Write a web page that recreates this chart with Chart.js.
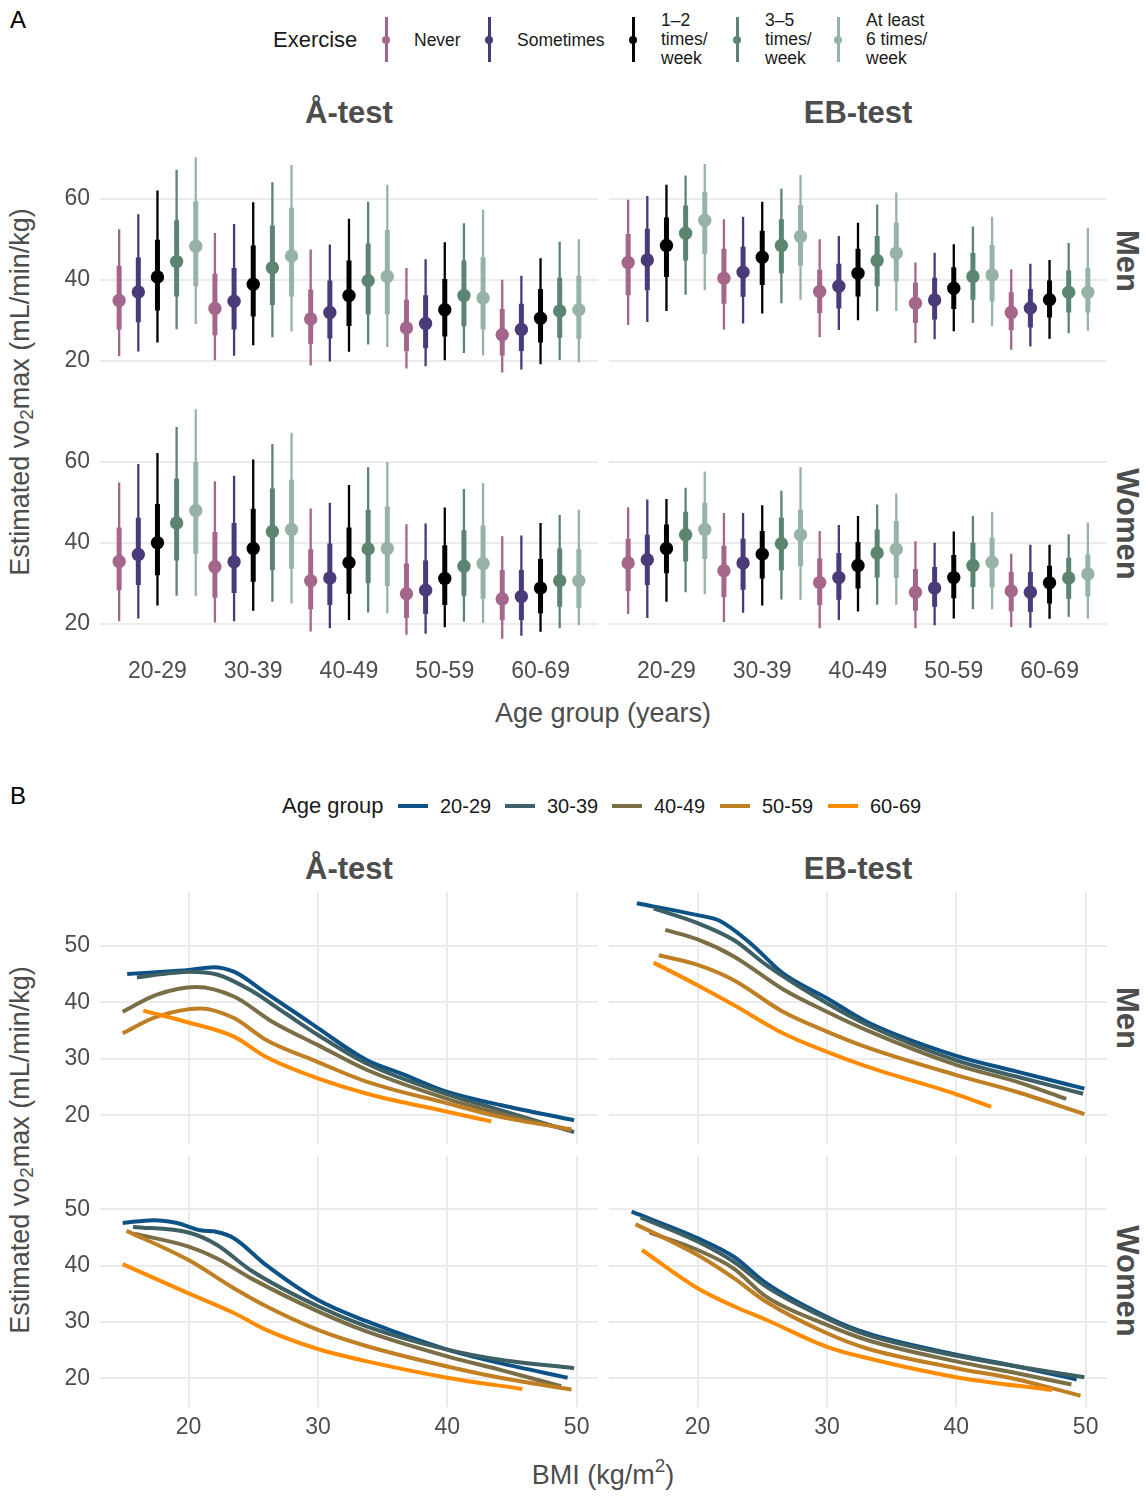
<!DOCTYPE html>
<html lang="en">
<head>
<meta charset="UTF-8">
<title>Estimated VO2max by exercise, age group and BMI</title>
<script src="https://cdn.jsdelivr.net/npm/chart.js"></script>
<style>
    body { margin: 0; background: #fff; font-family: "Liberation Sans", Arial, sans-serif; }
    #page { position: relative; width: 1148px; height: 1496px; overflow: hidden; background: #fff; }
    #page canvas { position: absolute; }
    .txt { position: absolute; white-space: nowrap; line-height: 1; }
    .tag { font-size: 24px; color: #000; }
    .strip { font-size: 31px; font-weight: bold; color: #4D4D4D; transform: translate(-50%, -50%); }
    .rstrip { font-size: 31px; font-weight: bold; color: #4D4D4D; transform: translate(-50%, -50%) rotate(90deg); }
    .ytitle { font-size: 27px; color: #4D4D4D; transform: translate(-50%, -50%) rotate(-90deg); }
    .xtitle { font-size: 27px; color: #4D4D4D; transform: translate(-50%, -50%); }
    .ytitle sub { font-size: 0.7em; vertical-align: -0.25em; }
    .xtitle sup { font-size: 0.7em; vertical-align: 0.6em; }
    .legtitle { font-size: 22px; color: #1a1a1a; transform: translateY(-50%); }
    .leglab { font-size: 17.5px; color: #1a1a1a; line-height: 19px; transform: translateY(-50%); }
    .leglabB { font-size: 20px; color: #1a1a1a; transform: translateY(-50%); }
</style>
</head>
<body>
<div id="page">
    <div class="txt tag" style="left:10px; top:8px;">A</div>
    <div class="txt tag" style="left:10px; top:784px;">B</div>

    <div class="txt legtitle" style="left:273px; top:40px;">Exercise</div>
    <div id="legendA"></div>
    <div class="txt legtitle" style="left:282px; top:806px;">Age group</div>
    <div id="legendB"></div>

    <div class="txt strip" style="left:349px; top:112px;">Å-test</div>
    <div class="txt strip" style="left:858px; top:112px;">EB-test</div>
    <div class="txt rstrip" style="left:1127px; top:261px;">Men</div>
    <div class="txt rstrip" style="left:1127px; top:524px;">Women</div>
    <div class="txt ytitle" style="left:22px; top:392px;">Estimated vo<sub>2</sub>max (mL/min/kg)</div>
    <div class="txt xtitle" style="left:603px; top:713px;">Age group (years)</div>

    <div class="txt strip" style="left:349px; top:868px;">Å-test</div>
    <div class="txt strip" style="left:858px; top:868px;">EB-test</div>
    <div class="txt rstrip" style="left:1127px; top:1018px;">Men</div>
    <div class="txt rstrip" style="left:1127px; top:1281px;">Women</div>
    <div class="txt ytitle" style="left:22px; top:1150px;">Estimated vo<sub>2</sub>max (mL/min/kg)</div>
    <div class="txt xtitle" style="left:603px; top:1473px;">BMI (kg/m<sup>2</sup>)</div>

    <canvas id="aMen" style="left:40px; top:135px;" width="558" height="252"></canvas>
    <canvas id="ebMen" style="left:609px; top:135px;" width="498" height="252"></canvas>
    <canvas id="aWomen" style="left:40px; top:398px;" width="558" height="296"></canvas>
    <canvas id="ebWomen" style="left:609px; top:398px;" width="498" height="296"></canvas>

    <canvas id="bmiAMen" style="left:40px; top:892px;" width="558" height="252"></canvas>
    <canvas id="bmiEbMen" style="left:609px; top:892px;" width="498" height="252"></canvas>
    <canvas id="bmiAWomen" style="left:40px; top:1156px;" width="558" height="291"></canvas>
    <canvas id="bmiEbWomen" style="left:609px; top:1156px;" width="498" height="291"></canvas>
</div>

<script>
    // ---- Panel A data: rows = exercise level, columns = age group ----
    const ageGroups = ['20-29', '30-39', '40-49', '50-59', '60-69'];
    const exerciseLevels = ['Never', 'Sometimes', '1–2\ntimes/\nweek', '3–5\ntimes/\nweek', 'At least\n6 times/\nweek'];
    const yTicksA = [20, 40, 60];

    // Å-test, men
    const aMenMid  = [[34.9, 32.9, 30.3, 28.1, 26.4], [37.0, 34.7, 31.9, 29.2, 27.7], [40.7, 38.9, 36.1, 32.6, 30.5], [44.5, 43.0, 39.8, 36.1, 32.3], [48.3, 45.9, 40.8, 35.5, 32.6]];
    const aMenLo66 = [[27.7, 26.3, 24.2, 22.4, 21.3], [29.5, 27.7, 25.5, 23.1, 22.4], [32.4, 30.9, 28.6, 26.0, 24.5], [35.9, 33.8, 31.4, 28.5, 25.7], [38.4, 35.9, 31.5, 27.7, 25.4]];
    const aMenHi66 = [[43.5, 41.5, 37.6, 35.1, 32.8], [45.5, 42.9, 39.8, 36.2, 34.1], [49.9, 48.5, 44.8, 40.2, 37.7], [54.7, 53.4, 49.0, 44.8, 40.5], [59.4, 57.8, 52.3, 45.6, 41.0]];
    const aMenLo95 = [[21.1, 20.1, 18.8, 18.1, 17.1], [22.3, 21.2, 19.8, 18.6, 17.8], [24.5, 23.8, 22.2, 20.1, 19.1], [27.8, 25.8, 24.0, 21.9, 20.2], [29.1, 27.2, 23.4, 21.3, 19.6]];
    const aMenHi95 = [[52.5, 51.6, 47.5, 42.9, 40.0], [56.2, 53.8, 48.7, 45.1, 41.0], [62.1, 59.2, 55.1, 49.3, 45.3], [67.2, 64.1, 59.3, 54.0, 49.4], [70.3, 68.4, 63.5, 57.3, 50.0]];

    // EB-test, men
    const ebMenMid  = [[44.3, 40.4, 37.1, 34.2, 31.9], [44.9, 41.9, 38.4, 35.0, 33.0], [48.5, 45.6, 41.6, 37.9, 35.1], [51.5, 48.5, 44.8, 40.8, 36.9], [54.7, 50.7, 46.6, 41.2, 36.9]];
    const ebMenLo66 = [[36.2, 34.1, 31.8, 29.3, 27.5], [37.4, 35.8, 32.9, 30.2, 28.2], [40.7, 38.7, 35.9, 32.8, 30.7], [44.8, 41.6, 38.4, 35.1, 31.9], [46.4, 43.5, 39.6, 34.7, 31.9]];
    const ebMenHi66 = [[51.3, 47.7, 42.5, 39.3, 36.9], [52.6, 48.2, 44.0, 40.5, 37.7], [55.4, 52.1, 47.7, 43.1, 39.8], [58.4, 55.0, 50.8, 46.6, 42.3], [61.7, 58.5, 54.1, 48.6, 43.0]];
    const ebMenLo95 = [[28.8, 27.7, 25.8, 24.4, 22.7], [29.6, 29.2, 27.6, 25.3, 23.5], [32.3, 31.7, 30.0, 27.3, 25.4], [36.3, 34.2, 32.2, 29.3, 26.8], [37.4, 35.1, 32.3, 28.6, 27.4]];
    const ebMenHi95 = [[59.8, 55.0, 50.0, 44.3, 42.6], [60.7, 55.6, 50.8, 46.7, 44.0], [63.5, 59.3, 54.1, 48.8, 44.9], [65.8, 62.5, 58.6, 53.2, 49.1], [68.6, 65.9, 61.6, 55.6, 52.9]];

    // Å-test, women
    const aWomenMid  = [[35.4, 34.1, 30.6, 27.4, 26.1], [37.1, 35.3, 31.3, 28.3, 26.7], [40.0, 38.6, 35.1, 31.2, 28.8], [44.9, 42.8, 38.5, 34.2, 30.6], [48.0, 43.3, 38.6, 34.9, 30.6]];
    const aWomenLo66 = [[28.3, 26.4, 23.6, 21.4, 20.9], [29.6, 27.6, 24.6, 22.4, 20.9], [32.0, 30.4, 27.4, 24.6, 22.6], [35.6, 33.3, 30.0, 26.9, 24.2], [37.3, 33.6, 29.3, 26.2, 23.9]];
    const aWomenHi66 = [[43.8, 42.7, 38.4, 34.9, 33.3], [46.2, 44.9, 39.8, 35.6, 33.3], [49.6, 48.4, 43.8, 39.4, 36.0], [55.9, 53.4, 48.2, 43.1, 38.6], [60.0, 55.6, 49.0, 44.3, 38.4]];
    const aWomenLo95 = [[20.6, 20.3, 18.1, 17.3, 16.3], [21.3, 20.6, 18.9, 17.5, 17.0], [24.5, 23.2, 20.9, 19.1, 18.0], [26.9, 25.4, 22.8, 20.5, 18.9], [26.8, 25.0, 22.6, 20.2, 19.6]];
    const aWomenHi95 = [[54.9, 55.2, 48.5, 44.6, 41.6], [59.5, 56.6, 49.9, 44.8, 41.8], [62.2, 60.6, 54.3, 48.7, 44.9], [68.6, 64.4, 58.7, 53.3, 46.9], [73.0, 67.2, 60.0, 54.8, 48.2]];

    // EB-test, women
    const ebWomenMid  = [[35.0, 33.1, 30.2, 27.8, 28.1], [35.8, 35.0, 31.4, 28.8, 27.8], [38.6, 37.2, 34.4, 31.4, 30.1], [42.0, 39.8, 37.5, 34.4, 31.3], [43.3, 42.0, 38.4, 35.2, 32.3]];
    const ebWomenLo66 = [[28.1, 26.6, 24.6, 23.2, 23.1], [29.6, 28.4, 25.9, 24.2, 22.9], [32.5, 31.2, 28.7, 26.3, 25.0], [35.4, 33.2, 31.4, 29.1, 26.2], [36.0, 34.2, 31.3, 29.0, 26.7]];
    const ebWomenHi66 = [[41.0, 39.3, 36.1, 33.5, 32.8], [42.0, 41.0, 37.5, 34.0, 32.8], [44.5, 42.9, 40.2, 37.0, 34.3], [47.7, 46.2, 43.3, 40.0, 36.3], [49.9, 48.2, 45.4, 41.3, 37.2]];
    const ebWomenLo95 = [[22.4, 20.4, 18.9, 18.9, 19.2], [21.4, 22.7, 20.9, 19.6, 19.0], [25.4, 24.5, 23.0, 21.3, 21.2], [27.8, 26.0, 24.7, 23.6, 21.7], [27.3, 25.9, 24.7, 23.6, 21.2]];
    const ebWomenHi95 = [[48.8, 47.4, 42.9, 40.4, 37.3], [50.7, 47.4, 44.4, 40.0, 39.5], [50.8, 49.3, 46.6, 42.8, 39.5], [53.6, 52.9, 49.5, 46.6, 42.1], [57.6, 58.7, 52.2, 47.7, 45.0]];

    // ---- Panel B data: [BMI, vo2max] along each age group's curve ----
    const bmiTicks = [20, 30, 40, 50];
    const yTicksB = [20, 30, 40, 50];
    const curvesAMen = [
        [[15.25, 45.0], [17.5, 45.3], [20, 45.7], [21.9, 46.2], [23.5, 45.4], [26, 41.6], [28.6, 37.6], [30, 35.4], [33.8, 29.7], [36.4, 27.4], [40, 24.1], [44.1, 21.8], [49.8, 19.1]],
        [[16.0, 44.4], [18, 45.0], [20, 45.4], [22.2, 44.9], [24.8, 42.1], [27.5, 38.0], [30, 34.2], [33.8, 29.1], [40, 23.7], [44.1, 20.9], [49.8, 17.0]],
        [[14.9, 38.3], [17.5, 41.3], [20.6, 42.7], [23.5, 41.0], [26.5, 36.5], [30, 32.4], [33.8, 28.0], [40, 22.9], [44.1, 20.3], [49.6, 17.3]],
        [[14.9, 34.5], [17.5, 37.4], [20.9, 38.9], [23.5, 37.2], [26, 33.3], [30, 29.4], [33.8, 25.9], [40, 22.1], [44.1, 19.7], [49.6, 17.5]],
        [[16.5, 38.5], [20, 36.4], [23.5, 33.9], [26, 30.3], [30, 26.5], [33.8, 23.8], [40, 20.6], [43.4, 18.9]]
    ];
    const curvesEbMen = [
        [[15.3, 57.5], [20, 55.4], [21.7, 54.4], [24.1, 50.4], [26.6, 45.1], [30, 40.7], [33.1, 36.5], [40, 30.5], [44.7, 27.7], [49.9, 24.7]],
        [[16.6, 56.6], [20, 54.0], [22.8, 51.0], [25.3, 46.6], [30, 39.8], [33.1, 36.0], [40, 29.7], [44.7, 26.8], [49.8, 23.8]],
        [[17.5, 52.8], [20, 51.1], [22.8, 48.1], [26.6, 42.3], [30, 38.3], [33.1, 35.0], [40, 28.9], [44.7, 25.9], [48.5, 22.9]],
        [[17.0, 48.3], [20, 46.6], [22.8, 43.9], [26.6, 38.3], [30, 34.8], [33.1, 32.0], [40, 27.1], [44.7, 24.1], [49.9, 20.2]],
        [[16.6, 47.0], [20, 43.0], [22.8, 39.5], [26.6, 34.5], [30, 31.2], [33.1, 28.6], [40, 23.7], [42.7, 21.5]]
    ];
    const curvesAWomen = [
        [[14.9, 47.6], [17.3, 48.1], [19.1, 47.6], [20.9, 46.3], [22.2, 46.0], [23.5, 44.9], [26, 40.1], [30, 33.9], [33.8, 30.1], [40, 25.1], [44.1, 22.7], [49.3, 20.1]],
        [[15.7, 46.9], [20, 45.9], [22.2, 43.7], [24.8, 39.2], [30, 32.8], [33.8, 29.2], [40, 25.1], [44.1, 23.3], [49.8, 21.8]],
        [[15.8, 45.7], [20, 43.4], [22.2, 41.3], [24.8, 37.8], [30, 31.9], [33.8, 28.3], [40, 23.9], [44.1, 21.5], [48.8, 18.6]],
        [[15.2, 46.2], [20, 41.0], [23.5, 36.0], [26, 32.8], [30, 28.6], [33.8, 25.7], [40, 22.1], [44.1, 20.1], [49.6, 18.0]],
        [[14.9, 40.3], [20, 35.1], [23.5, 31.6], [26, 28.6], [30, 25.2], [33.8, 23.0], [40, 20.1], [45.8, 18.1]]
    ];
    const curvesEbWomen = [
        [[14.9, 49.6], [20, 44.9], [22.8, 41.6], [25.3, 36.9], [30, 30.9], [33.1, 28.0], [40, 24.2], [44.7, 22.1], [49.3, 19.8]],
        [[15.6, 48.6], [20, 44.3], [22.8, 40.7], [25.3, 36.3], [30, 30.6], [33.1, 27.7], [40, 24.0], [44.7, 22.1], [49.9, 20.2]],
        [[16.3, 45.9], [20, 42.8], [22.8, 39.5], [25.3, 34.5], [30, 29.5], [33.1, 26.8], [40, 23.0], [44.7, 20.9], [48.9, 18.9]],
        [[15.2, 47.4], [20, 41.9], [22.8, 37.8], [25.3, 33.6], [30, 28.0], [33.1, 25.3], [40, 21.8], [44.7, 19.8], [49.6, 16.9]],
        [[15.7, 42.8], [20, 36.0], [22.8, 32.8], [25.3, 30.4], [30, 25.6], [33.1, 23.6], [40, 20.2], [47.4, 17.9]]
    ];

    const exerciseColors = ['#A4668A', '#4A3A7A', '#000000', '#5C8571', '#96B3A6'];
    const ageColors = ['#0D5286', '#3E5F63', '#7A6E47', '#C17F24', '#FF8C00'];
    const dodge = [-0.4, -0.2, 0, 0.2, 0.4];
    const FONT = '"Liberation Sans", Arial, sans-serif';

    Chart.defaults.font.family = FONT;

    // linear axis with fixed ticks and fixed thickness, no label overflow padding
    function axis(min, max, ticks, o) {
        return {
            type: 'linear', min: min, max: max, offset: false,
            afterBuildTicks: s => { s.ticks = ticks.map(v => ({ value: v })); },
            afterFit: s => {
                if (s.isHorizontal()) s.height = o.size; else s.width = o.size;
                s.paddingTop = 0; s.paddingBottom = 0; s.paddingLeft = 0; s.paddingRight = 0;
            },
            border: { display: false },
            grid: { display: o.grid, color: '#EBEBEB', lineWidth: 2, drawTicks: false },
            ticks: {
                display: o.labels, color: '#4D4D4D', padding: o.pad || 0,
                font: { size: 23 }, autoSkip: false, maxRotation: 0,
                callback: o.fmt || (v => v)
            }
        };
    }

    function makeChart(id, datasets, x, y) {
        return new Chart(document.getElementById(id), {
            type: 'line',
            data: { datasets: datasets },
            options: {
                responsive: false, animation: false, events: [],
                layout: { padding: 0, autoPadding: false },
                plugins: { legend: { display: false }, tooltip: { enabled: false } },
                scales: { x: x, y: y }
            }
        });
    }

    function segs(lo, hi, k) {
        const pts = [];
        ageGroups.forEach((g, j) => {
            const x = j + 1 + dodge[k];
            pts.push({ x: x, y: lo[k][j] }, { x: x, y: hi[k][j] }, { x: x, y: null });
        });
        return pts;
    }

    function intervalSets(mid, lo66, hi66, lo95, hi95) {
        const sets = [];
        exerciseLevels.forEach((lvl, k) => {
            const c = exerciseColors[k];
            sets.push({ data: segs(lo95, hi95, k), borderColor: c, borderWidth: 2.3, pointRadius: 0, spanGaps: false, order: 3 });
            sets.push({ data: segs(lo66, hi66, k), borderColor: c, borderWidth: 5, pointRadius: 0, spanGaps: false, order: 2 });
            sets.push({
                data: ageGroups.map((g, j) => ({ x: j + 1 + dodge[k], y: mid[k][j] })),
                showLine: false, pointRadius: 6.7, pointBorderWidth: 0,
                pointBackgroundColor: c, pointBorderColor: c, order: 1
            });
        });
        return sets;
    }

    function curveSets(curves) {
        return curves.map((pts, i) => ({
            label: ageGroups[i],
            data: pts.map(p => ({ x: p[0], y: p[1] })),
            borderColor: ageColors[i], borderWidth: 4, pointRadius: 0,
            cubicInterpolationMode: 'monotone', order: -i
        }));
    }

    // ---- Panel A ----
    const xA = (show) => axis(0.4, 5.6, [1, 2, 3, 4, 5], {
        size: show ? 44 : 0, grid: false, labels: show, pad: 8, fmt: v => ageGroups[v - 1]
    });
    const yA = (show) => axis(13.5, 75.8, yTicksA, { size: show ? 60 : 0, grid: true, labels: show, pad: 10 });

    makeChart('aMen', intervalSets(aMenMid, aMenLo66, aMenHi66, aMenLo95, aMenHi95), xA(false), yA(true));
    makeChart('ebMen', intervalSets(ebMenMid, ebMenLo66, ebMenHi66, ebMenLo95, ebMenHi95), xA(false), yA(false));
    makeChart('aWomen', intervalSets(aWomenMid, aWomenLo66, aWomenHi66, aWomenLo95, aWomenHi95), xA(true), yA(true));
    makeChart('ebWomen', intervalSets(ebWomenMid, ebWomenLo66, ebWomenHi66, ebWomenLo95, ebWomenHi95), xA(true), yA(false));

    // ---- Panel B ----
    const xB = (show) => axis(13.15, 51.65, bmiTicks, { size: show ? 40 : 0, grid: true, labels: show, pad: 7 });
    const yB = (show) => axis(14.9, 59.5, yTicksB, { size: show ? 60 : 0, grid: true, labels: show, pad: 10 });

    makeChart('bmiAMen', curveSets(curvesAMen), xB(false), yB(true));
    makeChart('bmiEbMen', curveSets(curvesEbMen), xB(false), yB(false));
    makeChart('bmiAWomen', curveSets(curvesAWomen), xB(true), yB(true));
    makeChart('bmiEbWomen', curveSets(curvesEbWomen), xB(true), yB(false));

    // ---- Legends ----
    const legA = document.getElementById('legendA');
    const keyXA = [386, 489, 633, 737, 838];
    exerciseLevels.forEach((lvl, k) => {
        const c = exerciseColors[k];
        legA.insertAdjacentHTML('beforeend',
            `<div style="position:absolute;left:${keyXA[k] - 1}px;top:17px;width:2.5px;height:45px;background:${c}"></div>` +
            `<div style="position:absolute;left:${keyXA[k] - 4}px;top:36px;width:8px;height:8px;border-radius:50%;background:${c}"></div>` +
            `<div class="txt leglab" style="left:${keyXA[k] + 28}px;top:${lvl.includes('\n') ? 39 : 40}px">${lvl.split('\n').join('<br>')}</div>`);
    });

    const legB = document.getElementById('legendB');
    const keyXB = [398, 505, 612, 720, 828];
    ageGroups.forEach((g, i) => {
        legB.insertAdjacentHTML('beforeend',
            `<div style="position:absolute;left:${keyXB[i]}px;top:804px;width:30px;height:4px;background:${ageColors[i]}"></div>` +
            `<div class="txt leglabB" style="left:${keyXB[i] + 42}px;top:806px">${g}</div>`);
    });
</script>
</body>
</html>
